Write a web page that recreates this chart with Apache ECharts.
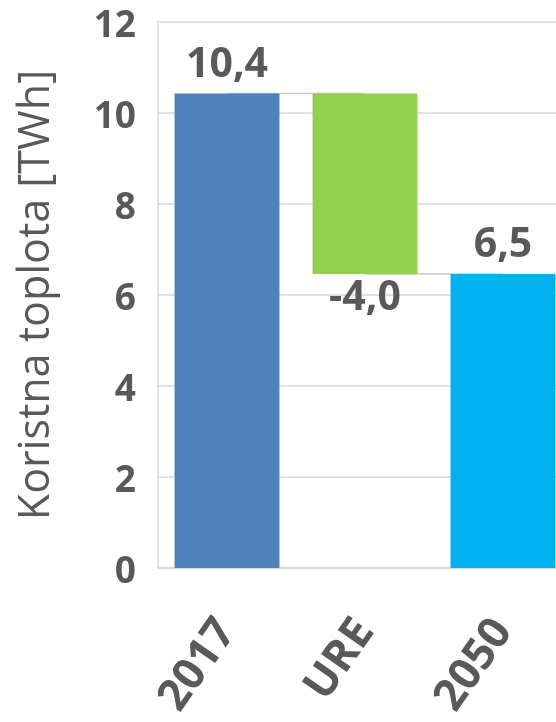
<!DOCTYPE html>
<html>
<head>
<meta charset="utf-8">
<script src="https://cdn.jsdelivr.net/npm/echarts@6/dist/echarts.min.js"></script>
<style>
html,body{margin:0;padding:0;background:#fff;}
#c{width:556px;height:722px;}
</style>
</head>
<body>
<div id="c"></div>
<script>
// Data
const categories = ['2017', 'URE', '2050'];
const changes = [10.43, -3.97, 6.46];      // displayed values
const kinds = ['total', 'delta', 'total'];
const barColors = ['#4f81bd', '#92d050', '#00b0f0'];
const yTicks = [0, 2, 4, 6, 8, 10, 12];
const yName = 'Koristna toplota [TWh]';

// Build waterfall stacks
const baseVals = [], visVals = [], ends = [];
let running = 0;
changes.forEach((v, i) => {
  if (kinds[i] === 'total') {
    baseVals.push(0); visVals.push(v); running = v;
  } else {
    const next = running + v;
    baseVals.push(Math.min(running, next));
    visVals.push(Math.abs(v));
    running = next;
  }
  ends.push(running);
});

const fmt = v => v.toFixed(1).replace('.', ',');
const txt = '#595959';
const font = "'Open Sans', 'DejaVu Sans', sans-serif";

const chart = echarts.init(document.getElementById('c'), null, {renderer: 'canvas'});
chart.setOption({
  animation: false,
  grid: {left: 158, top: 22, width: 414, height: 546, containLabel: false, outerBoundsMode: 'none'},
  xAxis: {
    type: 'category',
    data: categories,
    axisLine: {show: true, lineStyle: {color: '#d9d9d9', width: 1.5}},
    axisTick: {show: false},
    axisLabel: {
      interval: 0, rotate: 55, margin: 56,
      color: txt, fontSize: 44, fontWeight: 'bold', fontFamily: font
    }
  },
  yAxis: {
    type: 'value',
    min: yTicks[0], max: yTicks[yTicks.length - 1], interval: 2,
    name: yName,
    nameLocation: 'middle',
    nameGap: 100,
    nameTextStyle: {color: txt, fontSize: 43, fontFamily: font},
    axisLine: {show: true, lineStyle: {color: '#d9d9d9', width: 1.5}},
    axisTick: {show: false},
    splitLine: {show: true, lineStyle: {color: '#d9d9d9', width: 1.5}},
    axisLabel: {
      margin: 22, color: txt, fontSize: 37, fontWeight: 'bold', fontFamily: font,
      formatter: v => '{a|' + v + '}',
      rich: {a: {color: txt, fontSize: 37, fontWeight: 'bold', fontFamily: font, padding: [8, 0, 0, 0]}}
    }
  },
  series: [
    {
      type: 'custom',
      z: 1,
      silent: true,
      data: ends.slice(0, -1).map((e, i) => [i, e]),
      renderItem: function (params, api) {
        const i = api.value(0), lvl = api.value(1);
        const p1 = api.coord([i, lvl]);
        const p2 = api.coord([i + 1, lvl]);
        return {
          type: 'line',
          shape: {x1: p1[0], y1: p1[1], x2: p2[0], y2: p2[1]},
          style: {stroke: '#c8c8c8', lineWidth: 1.5}
        };
      }
    },
    {
      type: 'bar', stack: 'w', z: 2,
      barCategoryGap: '24%',
      itemStyle: {color: 'transparent'},
      data: baseVals,
      silent: true
    },
    {
      type: 'bar', stack: 'w', z: 2,
      barCategoryGap: '24%',
      data: visVals.map((v, i) => ({
        value: v,
        itemStyle: {color: barColors[i]},
        label: {
          show: true,
          position: changes[i] < 0 ? 'bottom' : 'top',
          distance: changes[i] < 0 ? 4 : 8,
          formatter: () => fmt(changes[i]),
          color: txt, fontSize: 41, fontWeight: 'bold', fontFamily: font
        }
      }))
    }
  ]
});
</script>
</body>
</html>
